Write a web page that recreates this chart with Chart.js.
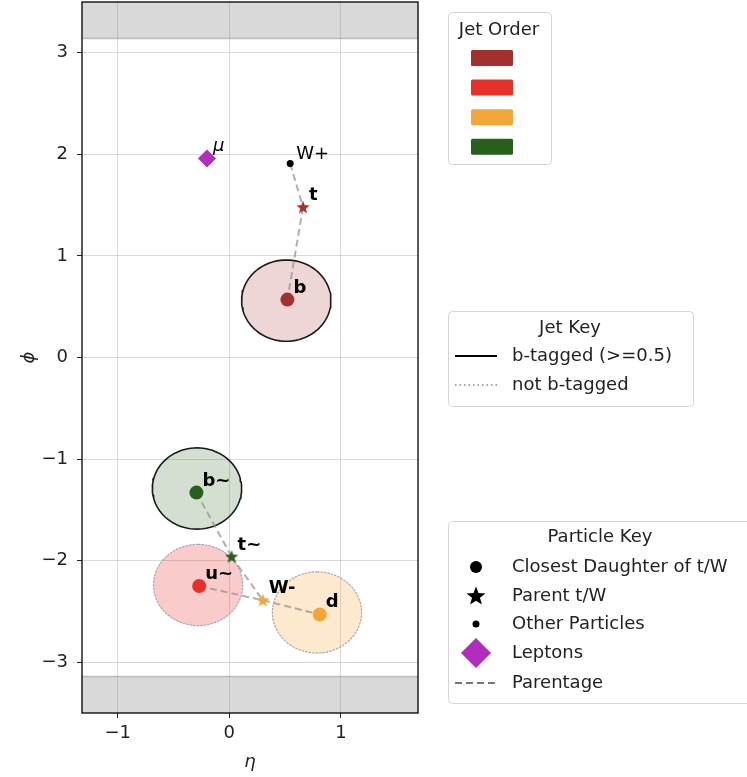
<!DOCTYPE html>
<html>
<head>
<meta charset="utf-8">
<script src="https://cdn.jsdelivr.net/npm/chart.js@4.4.0/dist/chart.umd.min.js"></script>
<style>
  body { margin: 0; background: #fff; overflow: hidden; }
  #myChart { display: block; margin-top: -7px; }
</style>
</head>
<body>
<canvas id="myChart" width="747" height="784"></canvas>
<script>
// axis ranges and ticks
const etaRange = [-1.32, 1.69];
const phiRange = [-3.5, 3.5];
const xTicks = [-1, 0, 1];
const yTicks = [-3, -2, -1, 0, 1, 2, 3];

// jets (in jet order)
const jetNames = ['b', 'u~', 'd', 'b~'];
const jetEta = [0.51, -0.28, 0.785, -0.29];
const jetPhi = [0.56, -2.24, -2.51, -1.29];
const jetBtag = [true, false, false, true];
const jetRadius = 0.4;

// closest daughters of t/W
const daughterNames = ['b', 'u~', 'd', 'b~'];
const daughterEta = [0.52, -0.27, 0.81, -0.295];
const daughterPhi = [0.57, -2.25, -2.53, -1.33];

// parent t/W
const parentNames = ['t', 't~', 'W-'];
const parentEta = [0.66, 0.02, 0.30];
const parentPhi = [1.48, -1.96, -2.39];
const parentJet = [0, 3, 2];

// other particles
const otherNames = ['W+'];
const otherEta = [0.545];
const otherPhi = [1.91];

// leptons
const leptonNames = ['μ'];
const leptonEta = [-0.2];
const leptonPhi = [1.96];

// parentage links
const parentage = [['W+', 't'], ['t', 'b'], ['b~', 't~'], ['t~', 'W-'], ['u~', 'W-'], ['W-', 'd']];

// legend texts
const jetKeyLabels = ['b-tagged (>=0.5)', 'not b-tagged'];
const particleKeyLabels = ['Closest Daughter of t/W', 'Parent t/W', 'Other Particles', 'Leptons', 'Parentage'];

// styles
const jetColors = ['#a3302f', '#e8302a', '#f3a73a', '#27601c'];
const jetFills = ['rgba(163,48,47,0.2)', 'rgba(232,48,42,0.25)', 'rgba(243,167,58,0.25)', 'rgba(39,96,28,0.2)'];
const leptonColor = '#b12cbf';
const FONT = 'DejaVu Sans';
const SHIFT = 7; // canvas is moved up by this much

Chart.defaults.font.family = FONT;
Chart.defaults.font.size = 18;
Chart.defaults.color = '#222';

function starImage(color, r) {
    const c = document.createElement('canvas');
    const s = Math.ceil(r * 2 + 2);
    c.width = c.height = s;
    const g = c.getContext('2d');
    g.beginPath();
    for (let i = 0; i < 10; i++) {
        const rad = i % 2 === 0 ? r : r * 0.42;
        const a = -Math.PI / 2 + i * Math.PI / 5;
        const px = s / 2 + rad * Math.cos(a), py = s / 2 + 0.5 + rad * Math.sin(a);
        if (i) g.lineTo(px, py); else g.moveTo(px, py);
    }
    g.closePath();
    g.fillStyle = color;
    g.fill();
    return c;
}

function circlePoints(cx, cy, r) {
    const pts = [];
    for (let k = 0; k <= 90; k++) {
        const a = Math.PI / 2 + k / 90 * 2 * Math.PI;
        pts.push({x: cx + r * Math.cos(a), y: cy + r * Math.sin(a)});
    }
    return pts;
}

const allPos = {};
daughterNames.forEach((n, i) => allPos[n] = {x: daughterEta[i], y: daughterPhi[i]});
parentNames.forEach((n, i) => allPos[n] = {x: parentEta[i], y: parentPhi[i]});
otherNames.forEach((n, i) => allPos[n] = {x: otherEta[i], y: otherPhi[i]});

const datasets = [];

// particles on top
datasets.push({
    label: 'daughters',
    data: daughterNames.map((n, i) => ({x: daughterEta[i], y: daughterPhi[i]})),
    backgroundColor: daughterNames.map(n => jetColors[jetNames.indexOf(n)]),
    borderWidth: 0,
    pointRadius: 7,
    pointLabels: daughterNames,
    labelBold: true,
    order: 0
});
datasets.push({
    label: 'parents',
    data: parentNames.map((n, i) => ({x: parentEta[i], y: parentPhi[i]})),
    pointStyle: parentJet.map(j => starImage(jetColors[j], 7)),
    pointRadius: 7,
    pointLabels: parentNames,
    labelBold: true,
    order: 0
});
datasets.push({
    label: 'others',
    data: otherNames.map((n, i) => ({x: otherEta[i], y: otherPhi[i]})),
    backgroundColor: '#000',
    borderWidth: 0,
    pointRadius: 3.5,
    pointLabels: otherNames,
    labelBold: false,
    labelDy: 3,
    order: 0
});
datasets.push({
    label: 'leptons',
    data: leptonNames.map((n, i) => ({x: leptonEta[i], y: leptonPhi[i]})),
    pointStyle: 'rectRot',
    backgroundColor: leptonColor,
    borderWidth: 0,
    pointRadius: 9,
    pointLabels: leptonNames,
    labelBold: false,
    labelItalic: true,
    order: 0
});

// parentage lines
parentage.forEach(([a, b]) => {
    datasets.push({
        label: 'link',
        data: [allPos[a], allPos[b]],
        showLine: true,
        borderColor: 'rgba(150,150,150,0.75)',
        borderWidth: 2,
        borderDash: [7, 4],
        pointRadius: 0,
        order: 1
    });
});

// jets
jetNames.forEach((n, i) => {
    datasets.push({
        label: 'jet',
        data: circlePoints(jetEta[i], jetPhi[i], jetRadius),
        showLine: true,
        fill: 'shape',
        backgroundColor: jetFills[i],
        borderColor: jetBtag[i] ? '#1a1a1a' : 'rgba(150,150,150,0.8)',
        borderWidth: jetBtag[i] ? 1.6 : 1.2,
        borderDash: jetBtag[i] ? [] : [1.5, 2],
        borderJoinStyle: 'round',
        borderCapStyle: 'round',
        pointRadius: 0,
        tension: 0,
        order: 2
    });
});

// out of range phi bands
datasets.push({
    label: 'band top',
    data: [{x: etaRange[0], y: Math.PI}, {x: etaRange[1], y: Math.PI}],
    showLine: true,
    fill: 'end',
    backgroundColor: 'rgba(128,128,128,0.3)',
    borderColor: 'rgba(128,128,128,0.45)',
    borderWidth: 1.5,
    pointRadius: 0,
    order: 3
});
datasets.push({
    label: 'band bottom',
    data: [{x: etaRange[0], y: -Math.PI}, {x: etaRange[1], y: -Math.PI}],
    showLine: true,
    fill: 'start',
    backgroundColor: 'rgba(128,128,128,0.3)',
    borderColor: 'rgba(128,128,128,0.45)',
    borderWidth: 1.5,
    pointRadius: 0,
    order: 3
});

const fmt = v => (v < 0 ? '\u2212' + Math.abs(v) : String(v));

const labelsPlugin = {
    id: 'pointLabels',
    afterDatasetsDraw(chart) {
        const ctx = chart.ctx;
        ctx.save();
        chart.data.datasets.forEach((ds, i) => {
            if (!ds.pointLabels) return;
            const meta = chart.getDatasetMeta(i);
            ctx.font = (ds.labelItalic ? 'italic ' : '') + (ds.labelBold ? 'bold ' : '') + '18px "' + FONT + '"';
            ctx.fillStyle = '#000';
            ctx.textBaseline = 'alphabetic';
            ctx.textAlign = 'left';
            meta.data.forEach((pt, j) => {
                ctx.fillText(ds.pointLabels[j], pt.x + 6, pt.y - 7 + (ds.labelDy || 0));
            });
        });
        // frame
        const a = chart.chartArea;
        ctx.strokeStyle = '#000';
        ctx.lineWidth = 1.3;
        ctx.strokeRect(a.left, a.top, a.right - a.left, a.bottom - a.top);
        ctx.restore();
    }
};

function legendBox(ctx, x, y, w, h) {
    ctx.beginPath();
    ctx.roundRect(x + 0.5, y + 0.5, w, h, 4);
    ctx.fillStyle = 'rgba(255,255,255,0.85)';
    ctx.fill();
    ctx.strokeStyle = '#d4d4d4';
    ctx.lineWidth = 1;
    ctx.stroke();
}

const legendPlugin = {
    id: 'keys',
    afterDraw(chart) {
        const ctx = chart.ctx;
        ctx.save();
        ctx.translate(0, SHIFT);
        ctx.font = '18px "' + FONT + '"';
        ctx.textBaseline = 'middle';
        ctx.fillStyle = '#222';

        // Jet Order
        legendBox(ctx, 448, 12, 103, 152);
        ctx.textAlign = 'center';
        ctx.fillStyle = '#222';
        ctx.fillText('Jet Order', 499, 30);
        jetColors.forEach((c, i) => {
            ctx.fillStyle = c;
            ctx.beginPath();
            ctx.roundRect(471, 50 + i * 29.6, 42, 16, 1.5);
            ctx.fill();
        });

        // Jet Key
        legendBox(ctx, 448, 311, 245, 95);
        ctx.fillStyle = '#222';
        ctx.textAlign = 'center';
        ctx.fillText('Jet Key', 570, 328);
        ctx.textAlign = 'left';
        ctx.fillText(jetKeyLabels[0], 512, 356);
        ctx.fillText(jetKeyLabels[1], 512, 385);
        ctx.strokeStyle = '#000';
        ctx.lineWidth = 2;
        ctx.beginPath(); ctx.moveTo(455, 356); ctx.lineTo(497, 356); ctx.stroke();
        ctx.strokeStyle = '#888';
        ctx.lineWidth = 1.5;
        ctx.setLineDash([1.5, 3]);
        ctx.beginPath(); ctx.moveTo(455, 385); ctx.lineTo(497, 385); ctx.stroke();
        ctx.setLineDash([]);

        // Particle Key
        legendBox(ctx, 448, 521, 310, 182);
        ctx.fillStyle = '#222';
        ctx.textAlign = 'center';
        ctx.fillText('Particle Key', 600, 537);
        ctx.textAlign = 'left';
        const rows = [567, 596, 624, 653, 683];
        particleKeyLabels.forEach((t, i) => ctx.fillText(t, 512, rows[i]));
        ctx.fillStyle = '#000';
        ctx.beginPath(); ctx.arc(476, rows[0], 6, 0, 2 * Math.PI); ctx.fill();
        ctx.drawImage(starImage('#000', 10), 476 - 11, rows[1] - 11);
        ctx.beginPath(); ctx.arc(476, rows[2], 3.5, 0, 2 * Math.PI); ctx.fill();
        ctx.fillStyle = leptonColor;
        ctx.beginPath();
        ctx.moveTo(476, rows[3] - 15); ctx.lineTo(491, rows[3]); ctx.lineTo(476, rows[3] + 15); ctx.lineTo(461, rows[3]);
        ctx.closePath(); ctx.fill();
        ctx.strokeStyle = '#777';
        ctx.lineWidth = 2;
        ctx.setLineDash([7, 4]);
        ctx.beginPath(); ctx.moveTo(455, rows[4]); ctx.lineTo(497, rows[4]); ctx.stroke();
        ctx.restore();
    }
};

const config = {
    type: 'scatter',
    data: {datasets: datasets},
    options: {
        responsive: false,
        animation: false,
        events: [],
        devicePixelRatio: 1,
        layout: {
            padding: {top: 2, right: 329, bottom: 0, left: 0}
        },
        plugins: {
            legend: {display: false},
            tooltip: {enabled: false}
        },
        scales: {
            x: {
                type: 'linear',
                min: etaRange[0],
                max: etaRange[1],
                afterBuildTicks: s => { s.ticks = xTicks.map(v => ({value: v})); },
                afterFit: s => { s.height = 64; s.paddingLeft = 0; s.paddingRight = 0; },
                ticks: {callback: v => fmt(v), padding: 5, maxRotation: 0},
                grid: {color: 'rgba(128,128,128,0.3)', tickColor: '#222', tickLength: 5},
                border: {display: false},
                title: {display: true, text: 'η', font: {style: 'italic', size: 18}, padding: {top: 0, bottom: 4}}
            },
            y: {
                type: 'linear',
                min: phiRange[0],
                max: phiRange[1],
                afterBuildTicks: s => { s.ticks = yTicks.map(v => ({value: v})); },
                afterFit: s => { s.width = 82; s.paddingTop = 0; s.paddingBottom = 0; },
                ticks: {callback: v => fmt(v), padding: 9},
                grid: {color: 'rgba(128,128,128,0.3)', tickColor: '#222', tickLength: 5},
                border: {display: false},
                title: {display: true, text: 'ϕ', font: {style: 'italic', size: 18}, padding: {top: 19, bottom: 0}}
            }
        }
    },
    plugins: [labelsPlugin, legendPlugin]
};

const graphe = new Chart(document.getElementById('myChart'), config);
</script>
</body>
</html>
